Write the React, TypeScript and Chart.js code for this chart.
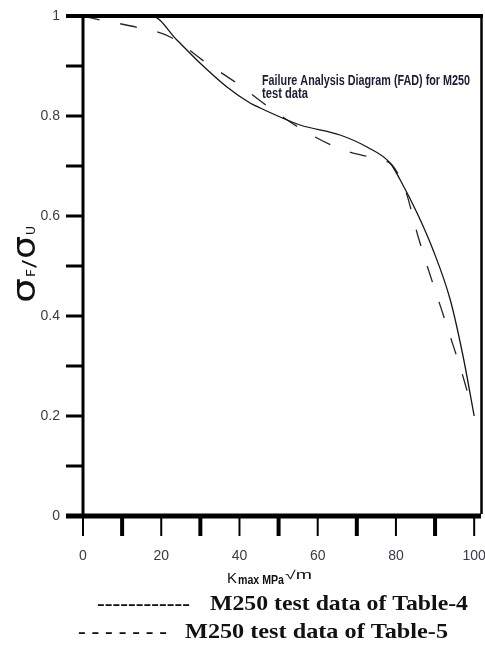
import React, { useEffect, useRef } from "react";
import { Chart, registerables } from "chart.js";

Chart.register(...registerables);

// Solid curve: M250 test data of Table-4
const table4K = [0, 10, 17.6, 24, 29.9, 36.8, 42.7, 45.3, 55.5, 65.7, 72.6, 78.5, 81.1, 85.4, 89.5, 93.9, 97.2, 100];
const table4Ratio = [1, 1, 1, 0.952, 0.906, 0.858, 0.826, 0.816, 0.782, 0.762, 0.738, 0.706, 0.672, 0.606, 0.532, 0.432, 0.318, 0.2];

// Dashed curve: M250 test data of Table-5
const table5K = [0, 4.3, 12.3, 22.3, 31.2, 39.6, 47.8, 57.5, 66.5, 76, 79, 82.4, 85.7, 93.6, 97.4, 99.5];
const table5Ratio = [1, 0.992, 0.98, 0.958, 0.908, 0.864, 0.816, 0.766, 0.732, 0.712, 0.702, 0.652, 0.558, 0.366, 0.272, 0.212];

const xTickValues = [0, 10, 20, 30, 40, 50, 60, 70, 80, 90, 100];
const xTickLabels = ["0", "", "20", "", "40", "", "60", "", "80", "", "100"];
const yTickValues = [0, 0.1, 0.2, 0.3, 0.4, 0.5, 0.6, 0.7, 0.8, 0.9, 1];
const yTickLabels = ["0", "", "0.2", "", "0.4", "", "0.6", "", "0.8", "", "1"];

const legendLabels = ["M250 test data of Table-4", "M250 test data of Table-5"];
const annotation = ["Failure Analysis Diagram (FAD) for M250", "test data"];

const NARROW = "'Liberation Sans Narrow', 'Arial Narrow', 'Liberation Sans', Arial, sans-serif";

function fitText(ctx: CanvasRenderingContext2D, text: string, x: number, y: number, width: number, font: string) {
  ctx.save();
  ctx.font = font;
  const w = ctx.measureText(text).width;
  ctx.translate(x, y);
  ctx.scale(width / w, 1);
  ctx.textAlign = "left";
  ctx.textBaseline = "alphabetic";
  ctx.fillText(text, 0, 0);
  ctx.restore();
}

const framePlugin = {
  id: "framePlugin",
  afterDraw(chart: any) {
    const ctx: CanvasRenderingContext2D = chart.ctx;
    const { left, right, top, bottom } = chart.chartArea;
    const xs = chart.scales.x;
    const ys = chart.scales.y;
    ctx.save();
    ctx.strokeStyle = "#000";
    ctx.lineCap = "butt";
    // y ticks
    ctx.lineWidth = 3;
    yTickValues.forEach((v) => {
      const py = ys.getPixelForValue(v);
      ctx.beginPath();
      ctx.moveTo(left - 17, py);
      ctx.lineTo(left, py);
      ctx.stroke();
    });
    // x ticks
    xTickValues.forEach((v, i) => {
      const px = xs.getPixelForValue(v);
      ctx.lineWidth = i % 2 === 1 ? 4 : 2;
      ctx.beginPath();
      ctx.moveTo(px, bottom);
      ctx.lineTo(px, bottom + 20);
      ctx.stroke();
    });
    // frame
    ctx.lineWidth = 4;
    ctx.beginPath();
    ctx.moveTo(left - 17, top);
    ctx.lineTo(right + 1, top);
    ctx.stroke();
    ctx.lineWidth = 5;
    ctx.beginPath();
    ctx.moveTo(left - 17, bottom);
    ctx.lineTo(right - 1, bottom);
    ctx.stroke();
    ctx.lineWidth = 3;
    ctx.beginPath();
    ctx.moveTo(left, top);
    ctx.lineTo(left, bottom);
    ctx.stroke();
    ctx.lineWidth = 2.5;
    ctx.beginPath();
    ctx.moveTo(right - 0.5, top);
    ctx.lineTo(right - 0.5, bottom - 2);
    ctx.stroke();

    // annotation
    ctx.fillStyle = "#1c1c34";
    fitText(ctx, annotation[0], 262, 85, 208, "bold 14px " + NARROW);
    fitText(ctx, annotation[1], 262, 98, 46, "bold 14px " + NARROW);

    // x-axis title
    ctx.fillStyle = "#111";
    fitText(ctx, "K", 227, 583, 10, "15px 'Liberation Sans', Arial, sans-serif");
    fitText(ctx, "max MPa", 238, 584, 46, "bold 12px " + NARROW);
    fitText(ctx, "\u221Am", 285, 579, 27, "12px " + NARROW);

    // y-axis title (rotated)
    ctx.save();
    ctx.translate(35, 303);
    ctx.rotate(-Math.PI / 2);
    const sig = "32px 'DejaVu Sans', sans-serif";
    fitText(ctx, "\u03C3", 0, 0, 25, sig);
    fitText(ctx, "F", 26, 0, 8, "12px 'DejaVu Sans', sans-serif");
    fitText(ctx, "/", 35, 0, 8, "18px 'DejaVu Sans', sans-serif");
    fitText(ctx, "\u03C3", 44, 0, 23, sig);
    fitText(ctx, "U", 68, 0, 9, "12px 'DejaVu Sans', sans-serif");
    ctx.restore();

    // legend
    ctx.fillStyle = "#111";
    const serif = "bold 21px 'Liberation Serif', 'Times New Roman', serif";
    fitText(ctx, "------------", 97, 610, 93, serif);
    fitText(ctx, legendLabels[0], 210, 610, 258, serif);
    fitText(ctx, "- - - - - - -", 78, 638, 89, serif);
    fitText(ctx, legendLabels[1], 185, 638, 263, serif);
    ctx.restore();
  },
};

export default function App() {
  const ref = useRef<HTMLCanvasElement | null>(null);
  useEffect(() => {
    if (!ref.current) return;
    const chart = new Chart(ref.current, {
      type: "line",
      data: {
        datasets: [
          {
            label: legendLabels[0],
            data: table4K.map((x, i) => ({ x, y: table4Ratio[i] })),
            borderColor: "#151515",
            borderWidth: 1.3,
            pointRadius: 0,
            cubicInterpolationMode: "monotone",
            fill: false,
          },
          {
            label: legendLabels[1],
            data: table5K.map((x, i) => ({ x, y: table5Ratio[i] })),
            borderColor: "#252525",
            borderWidth: 1.3,
            borderDash: [17, 21],
            pointRadius: 0,
            cubicInterpolationMode: "monotone",
            fill: false,
          },
        ],
      },
      options: {
        responsive: false,
        animation: false,
        layout: { padding: { top: 16, right: 3, left: 0, bottom: 0 } },
        plugins: { legend: { display: false }, tooltip: { enabled: false } },
        scales: {
          x: {
            type: "linear",
            min: 0,
            max: 102,
            grid: { display: false, drawTicks: false },
            border: { display: false },
            afterBuildTicks: (s: any) => {
              s.ticks = xTickValues.map((v) => ({ value: v }));
            },
            afterFit: (s: any) => {
              s.height = 129;
              s.paddingLeft = 0;
              s.paddingRight = 0;
            },
            ticks: {
              autoSkip: false,
              maxRotation: 0,
              minRotation: 0,
              padding: 32,
              color: "#3a3a4a",
              font: { family: NARROW, size: 14 },
              callback: (_v: any, i: number) => xTickLabels[i] ?? "",
            },
          },
          y: {
            type: "linear",
            min: 0,
            max: 1,
            grid: { display: false, drawTicks: false },
            border: { display: false },
            afterBuildTicks: (s: any) => {
              s.ticks = yTickValues.map((v) => ({ value: v }));
            },
            afterFit: (s: any) => {
              s.width = 83;
              s.paddingTop = 0;
              s.paddingBottom = 0;
            },
            ticks: {
              autoSkip: false,
              padding: 23,
              color: "#3a3a4a",
              font: { family: NARROW, size: 14 },
              callback: (_v: any, i: number) => yTickLabels[i] ?? "",
            },
          },
        },
      },
      plugins: [framePlugin],
    } as any);
    return () => chart.destroy();
  }, []);
  return (
    <div style={{ position: "absolute", left: 0, top: 0, width: 485, height: 645, background: "#fff" }}>
      <canvas ref={ref} width={485} height={645} style={{ display: "block" }} />
    </div>
  );
}
